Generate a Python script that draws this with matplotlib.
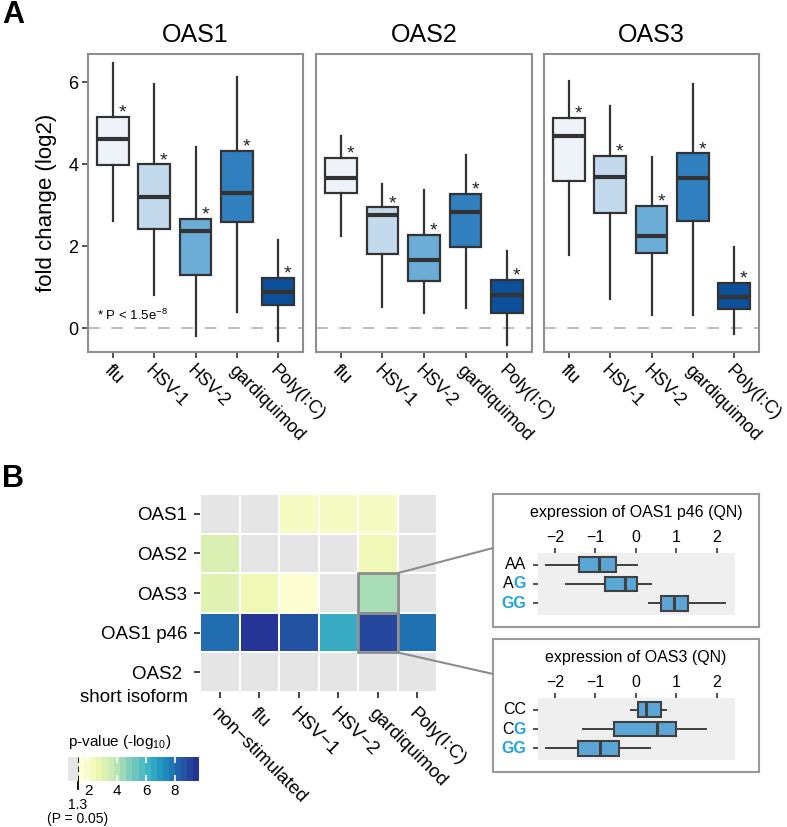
import numpy as np
import matplotlib
matplotlib.use('Agg')
import matplotlib.pyplot as plt
from matplotlib.colors import LinearSegmentedColormap, Normalize
from matplotlib.cm import ScalarMappable
from matplotlib.patches import Rectangle, ConnectionPatch

plt.rcParams['font.family'] = ['Liberation Sans', 'DejaVu Sans']
plt.rcParams['mathtext.fontset'] = 'custom'
plt.rcParams['mathtext.rm'] = 'Liberation Sans'
plt.rcParams['mathtext.default'] = 'regular'

# ---- panel A: fold change (log2) boxplots ----
stimuli = ['flu', 'HSV-1', 'HSV-2', 'gardiquimod', 'Poly(I:C)']
genes = ['OAS1', 'OAS2', 'OAS3']
box_colors = ['#eef3fa', '#c3d9ec', '#6badd6', '#3080c0', '#0c4f9b']

oas1_lo = [2.62, 0.82, -0.20, 0.39, -0.30]
oas1_q1 = [3.99, 2.41, 1.29, 2.60, 0.56]
oas1_med = [4.61, 3.21, 2.36, 3.29, 0.89]
oas1_q3 = [5.15, 4.00, 2.67, 4.33, 1.23]
oas1_hi = [6.46, 5.97, 4.43, 6.14, 2.15]

oas2_lo = [2.25, 0.51, 0.37, 0.50, -0.41]
oas2_q1 = [3.29, 1.81, 1.15, 1.98, 0.37]
oas2_med = [3.66, 2.76, 1.67, 2.84, 0.80]
oas2_q3 = [4.16, 2.95, 2.28, 3.28, 1.18]
oas2_hi = [4.69, 3.53, 3.36, 4.23, 1.89]

oas3_lo = [1.79, 0.71, 0.32, 0.32, -0.14]
oas3_q1 = [3.59, 2.80, 1.83, 2.62, 0.47]
oas3_med = [4.70, 3.70, 2.25, 3.67, 0.76]
oas3_q3 = [5.13, 4.20, 2.98, 4.27, 1.11]
oas3_hi = [6.02, 5.42, 4.17, 5.97, 1.99]

# ---- panel B: heatmap of -log10 p-values (nan = not significant) ----
conditions = ['non\u2212stimulated', 'flu', 'HSV\u22121', 'HSV\u22122', 'gardiquimod', 'Poly(I:C)']
transcripts = ['OAS1', 'OAS2', 'OAS3', 'OAS1 p46', 'OAS2 ']
nan = np.nan
pval_oas1 = [nan, nan, 2.0, 2.0, 2.0, nan]
pval_oas2 = [3.1, nan, nan, nan, 2.3, nan]
pval_oas3 = [2.9, 2.4, 1.5, nan, 4.2, nan]
pval_p46 = [8.1, 9.6, 8.8, 6.4, 9.1, 8.0]
pval_oas2s = [nan, nan, nan, nan, nan, nan]

# ---- insets: expression by genotype ----
p46_geno = ['AA', 'AG', 'GG']
p46_lo = [-2.21, -1.73, 0.33]
p46_q1 = [-1.40, -0.77, 0.62]
p46_med = [-0.91, -0.27, 0.95]
p46_q3 = [-0.50, 0.02, 1.29]
p46_hi = [0.03, 0.38, 2.21]

oas3_geno = ['CC', 'CG', 'GG']
oas3e_lo = [-0.13, -1.30, -2.21]
oas3e_q1 = [0.04, -0.54, -1.42]
oas3e_med = [0.26, 0.51, -0.88]
oas3e_q3 = [0.62, 1.00, -0.41]
oas3e_hi = [0.74, 1.74, 0.35]

W, H = 787, 827
def box(x0, y0, x1, y1):
    return [x0 / W, 1 - y1 / H, (x1 - x0) / W, (y1 - y0) / H]

def make_stats(lo, q1, med, q3, hi):
    return [dict(whislo=a, q1=b, med=c, q3=d, whishi=e, fliers=[])
            for a, b, c, d, e in zip(lo, q1, med, q3, hi)]

fig = plt.figure(figsize=(W / 100, H / 100), dpi=100)

dark = '#333333'
frame_grey = '#8f8f8f'

# ==========================
# Panel A
# ==========================
panelA = [
    (oas1_lo, oas1_q1, oas1_med, oas1_q3, oas1_hi),
    (oas2_lo, oas2_q1, oas2_med, oas2_q3, oas2_hi),
    (oas3_lo, oas3_q1, oas3_med, oas3_q3, oas3_hi),
]
axA_pos = [(88, 54, 303, 352), (316, 54, 532, 352), (544, 54, 759, 352)]

for k, (gene, vals) in enumerate(zip(genes, panelA)):
    ax = fig.add_axes(box(*axA_pos[k]))
    pos = list(range(1, len(stimuli) + 1))
    ax.axhline(0, color='#bdbdbd', lw=1.4, dashes=(6, 6), zorder=0)
    bp = ax.bxp(make_stats(*vals), positions=pos, widths=0.76, patch_artist=True,
                showfliers=False, showcaps=False,
                boxprops=dict(edgecolor=dark, linewidth=1.6),
                medianprops=dict(color=dark, linewidth=3),
                whiskerprops=dict(color=dark, linewidth=1.6))
    for patch, c in zip(bp['boxes'], box_colors):
        patch.set_facecolor(c)
    q3 = vals[3]
    for p, q in zip(pos, q3):
        ax.text(p + 0.23, q - 0.02, '*', ha='center', va='baseline', fontsize=14, color='#222222')
    ax.set_xlim(0.4, 5.6)
    ax.set_ylim(-0.58, 6.69)
    ax.set_xticks(pos)
    ax.set_xticklabels(stimuli, rotation=-45, ha='left', va='top',
                       rotation_mode='anchor', fontsize=13)
    ax.tick_params(axis='x', length=4, width=1.2, color=dark, pad=3)
    for s in ax.spines.values():
        s.set_color(frame_grey)
        s.set_linewidth(1.5)
    ax.set_title(gene, fontsize=18, pad=9)
    if k == 0:
        ax.set_yticks([0, 2, 4, 6])
        ax.tick_params(axis='y', length=4, width=1.2, color=dark, labelsize=13, pad=3)
        ax.set_ylabel('fold change (log2)', fontsize=16, labelpad=8)
        ax.text(0.62, 0.32, r'* P < 1.5e$^{-8}$', fontsize=9.5, ha='left', va='center')
    else:
        ax.set_yticks([])

fig.text(2 / W, 1 - 23 / H, 'A', fontsize=22, weight='bold', va='baseline')
fig.text(2 / W, 1 - 487 / H, 'B', fontsize=22, weight='bold', va='baseline')

# ==========================
# Panel B heatmap
# ==========================
ygb = ['#ffffd9', '#edf8b1', '#c7e9b4', '#7fcdbb', '#41b6c4', '#1d91c0', '#225ea8', '#253494']
cmap = LinearSegmentedColormap.from_list('ygb', ygb)
cmap.set_bad('#e5e5e5')
norm = Normalize(1.3, 9.65)

mat = np.ma.masked_invalid(np.array([pval_oas1, pval_oas2, pval_oas3, pval_p46, pval_oas2s]))
hm = fig.add_axes(box(200, 494, 437, 692))
hm.pcolormesh(mat, cmap=cmap, norm=norm, edgecolors='white', linewidth=1.2)
hm.set_xlim(0, len(conditions))
hm.set_ylim(len(transcripts), 0)
hm.set_xticks(np.arange(len(conditions)) + 0.5)
hm.set_xticklabels(conditions, rotation=-45, ha='left', va='top',
                   rotation_mode='anchor', fontsize=13.5)
hm.set_yticks(np.arange(len(transcripts)) + 0.5)
hm.set_yticklabels(transcripts, fontsize=13.5)
hm.tick_params(length=4, width=1.3, color=dark, pad=5)
for s in hm.spines.values():
    s.set_visible(False)
hm.annotate('short isoform', xy=(0, 4.5), xycoords=hm.get_yaxis_transform(),
            xytext=(-8.6, -18), textcoords='offset points', ha='right', va='center',
            fontsize=13.5)

for r in (2, 3):
    hm.add_patch(Rectangle((4, r), 1, 1, fill=False, edgecolor='#8c8c8c', lw=2, zorder=5))

# colorbar
cax = fig.add_axes(box(78, 757, 199, 781))
cb = fig.colorbar(ScalarMappable(norm=norm, cmap=cmap.resampled(20)), cax=cax,
                  orientation='horizontal', ticks=[2, 4, 6, 8])
cb.outline.set_visible(False)
cax.tick_params(direction='in', color='white', length=4, width=1.2, top=True,
                bottom=True, labelsize=11, pad=2)
cax.axvline(1.3, color='black', lw=1.3, dashes=(3, 2))
cax.axvline(1.3, ymin=-0.35, ymax=-0.05, color='black', lw=1.3, clip_on=False)
gax = fig.add_axes(box(68, 757, 78, 781))
gax.set_facecolor('#e5e5e5')
gax.set_xticks([])
gax.set_yticks([])
for s in gax.spines.values():
    s.set_visible(False)
cax.annotate('1.3', xy=(1.3, 0), xycoords=cax.get_xaxis_transform(),
             xytext=(0, -17), textcoords='offset points', ha='center', va='center', fontsize=10)
cax.annotate('(P = 0.05)', xy=(1.3, 0), xycoords=cax.get_xaxis_transform(),
             xytext=(0, -27), textcoords='offset points', ha='center', va='center', fontsize=10)
fig.text(68 / W, 1 - 746 / H, r'p-value (-log$_{10}$)', fontsize=11, va='baseline')

# ==========================
# Insets
# ==========================
blue_g = '#22a4d9'

def inset(frame_pos, inner_pos, title, title_y, geno, vals, link_xy, link_frac):
    fr = fig.add_axes(box(*frame_pos))
    fr.set_xticks([])
    fr.set_yticks([])
    for s in fr.spines.values():
        s.set_color('#9a9a9a')
        s.set_linewidth(1.5)
    ax = fig.add_axes(box(*inner_pos))
    ax.set_facecolor('#efefef')
    pos = [3, 2, 1]
    bp = ax.bxp(make_stats(*vals), positions=pos, widths=0.75, patch_artist=True,
                orientation='horizontal', showfliers=False, showcaps=False,
                boxprops=dict(edgecolor='#404040', linewidth=1.5),
                medianprops=dict(color='#404040', linewidth=2.2),
                whiskerprops=dict(color='#404040', linewidth=1.4))
    for patch in bp['boxes']:
        patch.set_facecolor('#5ba6d6')
    ax.set_xlim(-2.42, 2.45)
    ax.set_ylim(0.4, 3.6)
    ax.set_xticks([-2, -1, 0, 1, 2])
    ax.xaxis.tick_top()
    ax.set_yticks(pos)
    ax.set_yticklabels(['', '', ''])
    ax.tick_params(length=3.5, width=1.2, color=dark, labelsize=11.5, pad=2)
    for s in ax.spines.values():
        s.set_visible(False)
    # genotype labels, risk allele G in blue
    tr = ax.get_yaxis_transform()
    for p, g in zip(pos, geno):
        if g == 'GG':
            ax.annotate(g, xy=(0, p), xycoords=tr, xytext=(-8.6, 0), textcoords='offset points',
                        ha='right', va='center', fontsize=11.5, color=blue_g, weight='bold')
        elif g.endswith('G'):
            t = ax.annotate('G', xy=(0, p), xycoords=tr, xytext=(-8.6, 0), textcoords='offset points',
                            ha='right', va='center', fontsize=11.5, color=blue_g, weight='bold')
            ax.annotate(g[0], xy=(0, 0.5), xycoords=t, ha='right', va='center', fontsize=11.5)
        else:
            ax.annotate(g, xy=(0, p), xycoords=tr, xytext=(-8.6, 0), textcoords='offset points',
                        ha='right', va='center', fontsize=11.5)
    fig.text(636 / W, 1 - title_y / H, title, ha='center', va='baseline', fontsize=11.5)
    con = ConnectionPatch(xyA=link_xy, coordsA=hm.transData, xyB=(0, link_frac),
                          coordsB=fr.transAxes, color='#8c8c8c', lw=1.5)
    fig.add_artist(con)

inset((493, 494, 759, 627), (538, 553, 735, 615), 'expression of OAS1 p46 (QN)', 517,
      p46_geno, (p46_lo, p46_q1, p46_med, p46_q3, p46_hi), (5, 2), 0.594)
inset((493, 639, 759, 772), (538, 698, 735, 760), 'expression of OAS3 (QN)', 662,
      oas3_geno, (oas3e_lo, oas3e_q1, oas3e_med, oas3e_q3, oas3e_hi), (5, 4), 0.737)

fig.savefig('out.png', dpi=100)
